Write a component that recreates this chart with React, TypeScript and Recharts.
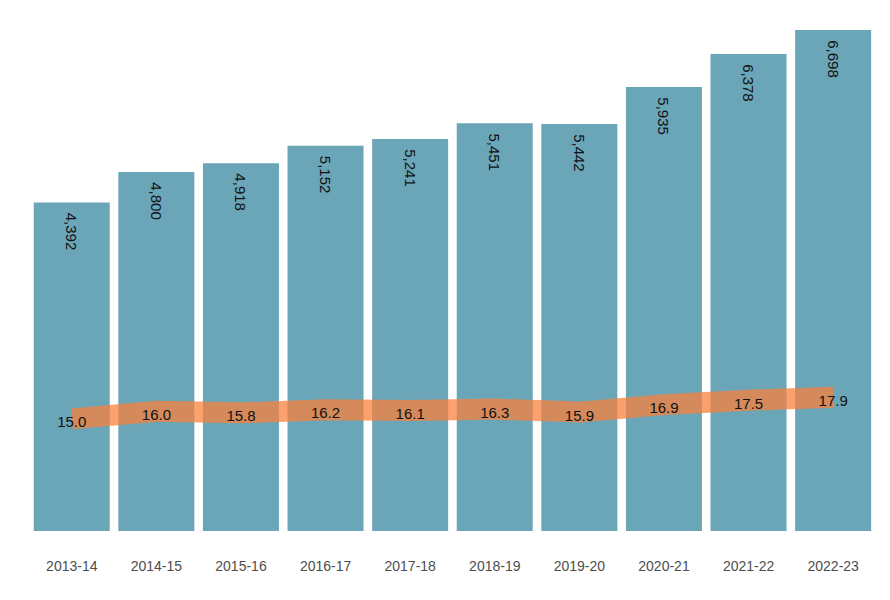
import { ComposedChart, Bar, Line, XAxis, YAxis, LabelList } from 'recharts'

const years = ['2013-14', '2014-15', '2015-16', '2016-17', '2017-18', '2018-19', '2019-20', '2020-21', '2021-22', '2022-23']
const totals = [4392, 4800, 4918, 5152, 5241, 5451, 5442, 5935, 6378, 6698]
const rates = [15.0, 16.0, 15.8, 16.2, 16.1, 16.3, 15.9, 16.9, 17.5, 17.9]

const FONT = '"Liberation Sans", Arial, sans-serif'

const data = years.map((year, i) => ({ year, total: totals[i], rate: rates[i] }))

// vertical value label, sitting just under the top of each bar
function BarLabel(props: any) {
  const { x, y, width, value } = props
  const cx = x + width / 2
  const cy = y + 29
  return (
    <text
      x={cx}
      y={cy}
      transform={`rotate(90, ${cx}, ${cy})`}
      textAnchor="middle"
      dominantBaseline="central"
      fill="#111111"
      fontSize={15}
      fontFamily={FONT}
    >
      {Number(value).toLocaleString('en-US')}
    </text>
  )
}

function RateLabel(props: any) {
  const { x, y, value } = props
  return (
    <text
      x={x}
      y={y + 3}
      textAnchor="middle"
      dominantBaseline="central"
      fill="#111111"
      fontSize={15}
      fontFamily={FONT}
    >
      {Number(value).toFixed(1)}
    </text>
  )
}

export default function App() {
  return (
    <div style={{ position: 'absolute', top: 0, left: 0, width: 890, height: 600, background: '#ffffff' }}>
      <ComposedChart
        width={890}
        height={600}
        data={data}
        margin={{ top: 30, right: 14.5, left: 29.5, bottom: 0 }}
        barCategoryGap="5%"
      >
        <XAxis
          dataKey="year"
          axisLine={false}
          tickLine={false}
          height={69}
          tickMargin={24}
          interval={0}
          tick={{ fill: '#4d4d4d', fontSize: 14, fontFamily: FONT }}
        />
        <YAxis yAxisId="left" hide domain={[0, 6698]} />
        <YAxis yAxisId="right" hide orientation="right" domain={[0, 67]} />
        <Bar yAxisId="left" dataKey="total" fill="#6aa5b8" isAnimationActive={false}>
          <LabelList dataKey="total" content={<BarLabel />} />
        </Bar>
        <Line
          yAxisId="right"
          type="linear"
          dataKey="rate"
          stroke="#f8813c"
          strokeOpacity={0.75}
          strokeWidth={21}
          strokeLinecap="butt"
          dot={false}
          activeDot={false}
          isAnimationActive={false}
        >
          <LabelList dataKey="rate" content={<RateLabel />} />
        </Line>
      </ComposedChart>
    </div>
  )
}
